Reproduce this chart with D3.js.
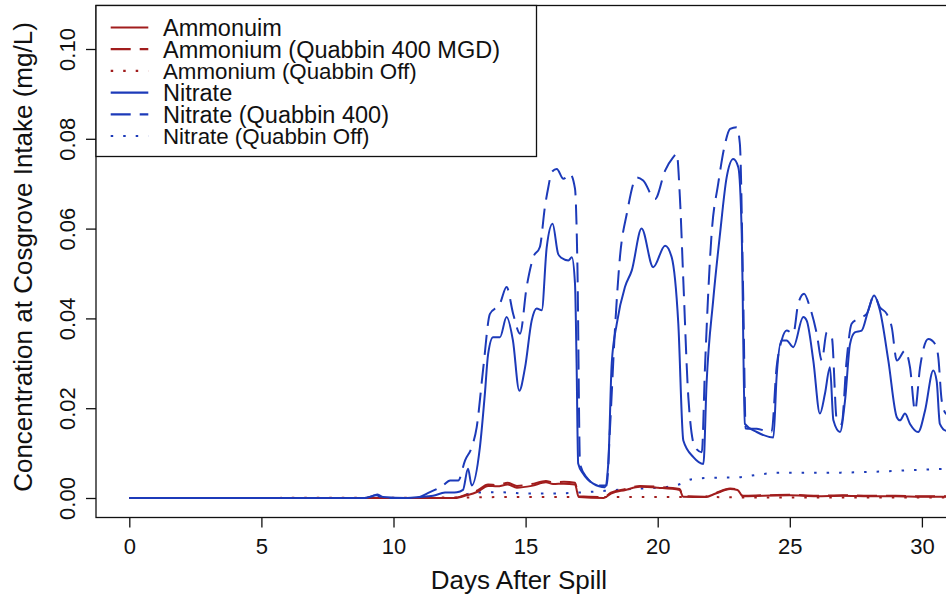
<!DOCTYPE html>
<html><head><meta charset="utf-8">
<script src="https://cdn.jsdelivr.net/npm/d3@7"></script>
<style>
html,body{margin:0;padding:0;background:#fff;}
svg{display:block;}
text{font-family:"Liberation Sans",Arial,Helvetica,sans-serif;fill:#111;}
</style></head>
<body>
<svg id="chart" width="946" height="598"></svg>
<script>
// ---------------- data ----------------
const xTicks = [0,5,10,15,20,25,30];
const yTicks = [0,0.02,0.04,0.06,0.08,0.10];
const yTickLabels = ["0.00","0.02","0.04","0.06","0.08","0.10"];
const xLabel = "Days After Spill";
const yLabel = "Concentration at Cosgrove Intake (mg/L)";
const legendLabels = ["Ammonuim","Ammonium (Quabbin 400 MGD)","Ammonium (Quabbin Off)","Nitrate","Nitrate (Quabbin 400)","Nitrate (Quabbin Off)"];

// Nitrate (solid)
const nitrateDays = [0,8.9,9.2,9.4,9.6,10.5,11.0,11.5,11.95,12.4,12.63,12.82,12.96,13.27,13.46,13.58,13.77,14.03,14.28,14.52,14.76,14.98,15.23,15.42,15.61,15.80,16.02,16.23,16.35,16.62,16.75,16.87,16.93,16.99,17.18,17.56,18.0,18.13,18.26,18.45,18.76,19.02,19.39,19.83,20.28,20.53,20.78,20.97,21.35,21.73,21.85,22.10,22.36,22.61,22.86,23.05,23.18,23.30,23.75,24.38,24.50,24.69,24.88,25.13,25.51,25.64,25.89,26.14,26.33,26.52,26.65,26.90,27.09,27.28,27.46,27.72,27.97,28.19,28.41,28.73,29.05,29.17,29.36,29.55,29.86,30.12,30.43,30.56,30.68,30.91,31.3];
const nitrateVals = [0,0,0.0004,0.0008,0.0002,0,0.0002,0.0005,0.0012,0.0013,0.0018,0.0065,0.0028,0.0113,0.0233,0.032,0.0358,0.0358,0.0403,0.0351,0.0239,0.0291,0.0395,0.0422,0.0418,0.0559,0.0611,0.0544,0.0535,0.0529,0.0536,0.0477,0.030,0.0077,0.0054,0.0032,0.0024,0.0077,0.030,0.0388,0.047,0.0507,0.060,0.0514,0.0562,0.0536,0.0388,0.0128,0.0091,0.0076,0.0255,0.044,0.0589,0.0714,0.0755,0.0737,0.0589,0.0165,0.0147,0.0135,0.0269,0.0351,0.0351,0.0336,0.0403,0.0395,0.0306,0.0188,0.0232,0.0291,0.0173,0.0147,0.0217,0.0343,0.0369,0.0373,0.0418,0.0451,0.0418,0.0306,0.018,0.0173,0.0188,0.0165,0.0147,0.0195,0.0284,0.026,0.0165,0.015,0.015];

// Nitrate (Quabbin 400) dashed
const nitrate400Days = [0,8.9,9.35,9.6,10.8,11.38,11.88,12.14,12.45,12.71,12.96,13.15,13.40,13.65,14.03,14.28,14.53,14.79,15.04,15.29,15.54,15.73,15.86,15.99,16.18,16.43,16.68,16.87,16.96,17.06,17.31,17.75,18.07,18.19,18.38,18.57,18.83,19.21,19.45,19.90,20.28,20.59,20.72,20.84,20.97,21.16,21.41,21.67,21.79,22.04,22.29,22.55,22.74,22.99,23.11,23.24,23.33,23.75,24.31,24.50,24.69,24.88,25.13,25.32,25.54,25.76,26.02,26.21,26.40,26.59,26.78,26.96,27.15,27.34,27.59,27.91,28.19,28.41,28.67,28.86,29.05,29.36,29.55,29.74,29.93,30.24,30.50,30.62,30.75,30.91,31.3];
const nitrate400Vals = [0,0,0.0006,0,0,0.0013,0.0028,0.0039,0.0039,0.0084,0.0113,0.0158,0.0291,0.041,0.0433,0.047,0.041,0.0366,0.047,0.0536,0.0559,0.0648,0.0692,0.0726,0.0733,0.0711,0.0722,0.0689,0.0522,0.0076,0.0046,0.0028,0.0028,0.015,0.0373,0.0536,0.0633,0.0714,0.0707,0.0666,0.0729,0.0759,0.0767,0.067,0.0484,0.0224,0.0113,0.0102,0.0291,0.0588,0.070,0.0789,0.0822,0.0826,0.0789,0.044,0.0155,0.0154,0.0147,0.0291,0.0351,0.0373,0.0366,0.0433,0.0455,0.0425,0.0366,0.0306,0.0369,0.0358,0.0173,0.0165,0.0306,0.0388,0.0399,0.041,0.0451,0.0425,0.041,0.038,0.0306,0.0328,0.0291,0.0195,0.0291,0.0354,0.0343,0.0314,0.0217,0.0188,0.018];

// Nitrate (Quabbin Off) dotted
const nitrateOffDays = [0,12.3,12.6,13.0,14.0,15.0,16.0,17.0,18.0,19.0,20.0,20.8,21.3,22.0,23.0,23.8,24.5,26.0,28.0,30.0,31.3];
const nitrateOffVals = [0,0,0.0004,0.0012,0.0013,0.001,0.001,0.0012,0.0016,0.002,0.0023,0.003,0.0042,0.0045,0.0046,0.0052,0.0056,0.0056,0.0058,0.0063,0.0066];

// Ammonium (solid)
const ammoniumDays = [0,12.3,12.77,13.18,13.58,13.92,14.33,14.67,15.23,15.77,16.04,16.45,16.87,17.01,17.96,18.23,18.78,19.33,20.01,20.83,20.96,21.79,22.2,22.74,23.02,23.22,24.0,25.0,26.0,27.0,28.0,29.0,30.0,31.3];
const ammoniumVals = [0,0,0.0006,0.0014,0.0027,0.0026,0.003,0.0023,0.0027,0.0035,0.0031,0.0032,0.003,0.0002,0.0,0.001,0.0018,0.0025,0.0023,0.0018,0.0003,0.0002,0.001,0.002,0.0018,0.0004,0.0005,0.0006,0.0004,0.0005,0.0004,0.0004,0.0003,0.0003];

// Ammonium (Quabbin 400 MGD) dashed
const ammonium400Days = [0,12.3,12.77,13.18,13.58,13.92,14.33,14.67,15.23,15.77,16.04,16.45,16.87,17.01,17.96,18.23,18.78,19.33,20.01,20.83,20.96,21.79,22.2,22.74,23.02,23.22,24.0,25.0,26.0,27.0,28.0,29.0,30.0,31.3];
const ammonium400Vals = [0,0,0.0008,0.0017,0.003,0.0029,0.0034,0.0027,0.0031,0.0038,0.0035,0.0036,0.0034,0.0004,0.0002,0.0012,0.002,0.0027,0.0025,0.002,0.0004,0.0003,0.0011,0.0021,0.0019,0.0005,0.0006,0.0007,0.0005,0.0006,0.0005,0.0005,0.0004,0.0004];

// Ammonium (Quabbin Off) dotted
const ammoniumOffDays = [0,12.5,14.0,16.0,18.0,20.0,22.0,24.0,26.0,28.0,30.0,31.3];
const ammoniumOffVals = [0,0.0001,0.0002,0.0002,0.0002,0.0002,0.0002,0.0001,0.0001,0.0001,0.0001,0.0001];

// ---------------- drawing ----------------
const RED = "#a11d1d", BLUE = "#1c3ab9";
const svg = d3.select("#chart");
const box = {left:96, right:950, top:5.5, bottom:517.5};

const x = d3.scaleLinear().domain([0,30]).range([129.3,921.9]);
const y = d3.scaleLinear().domain([0,0.1]).range([498,49]);

svg.append("defs").append("clipPath").attr("id","plotclip")
  .append("rect").attr("x",box.left).attr("y",box.top)
  .attr("width",box.right-box.left).attr("height",box.bottom-box.top);

const series = [
  {days:ammoniumOffDays, vals:ammoniumOffVals, color:RED, dash:"2.5,10", w:2},
  {days:nitrateOffDays, vals:nitrateOffVals, color:BLUE, dash:"2.5,10", w:2},
  {days:ammonium400Days, vals:ammonium400Vals, color:RED, dash:"20,9", w:2},
  {days:ammoniumDays, vals:ammoniumVals, color:RED, dash:null, w:2},
  {days:nitrate400Days, vals:nitrate400Vals, color:BLUE, dash:"20,9", w:2},
  {days:nitrateDays, vals:nitrateVals, color:BLUE, dash:null, w:2}
];

const line = d3.line().x(d=>x(d[0])).y(d=>y(d[1])).curve(d3.curveMonotoneX);
const g = svg.append("g").attr("clip-path","url(#plotclip)");
series.forEach(s=>{
  const pts = s.days.map((d,i)=>[d,s.vals[i]]);
  g.append("path").datum(pts).attr("d",line)
    .attr("fill","none").attr("stroke",s.color).attr("stroke-width",s.w)
    .attr("stroke-dasharray",s.dash).attr("stroke-linejoin","round");
});

// plot box
svg.append("rect").attr("x",box.left).attr("y",box.top)
  .attr("width",box.right-box.left).attr("height",box.bottom-box.top)
  .attr("fill","none").attr("stroke","#111").attr("stroke-width",1.3);

// x axis
const xAxis = d3.axisBottom(x).tickValues(xTicks).tickSize(10).tickSizeOuter(0).tickPadding(11).tickFormat(d3.format("d"));
const gx = svg.append("g").attr("transform",`translate(0,${box.bottom})`).call(xAxis);
gx.select(".domain").remove();
gx.selectAll(".tick line").attr("stroke","#111").attr("stroke-width",1.3);
gx.selectAll(".tick text").attr("font-size",22).attr("font-family","Liberation Sans, Arial, sans-serif").attr("fill","#111");

// y axis
const yAxis = d3.axisLeft(y).tickValues(yTicks).tickSize(10).tickSizeOuter(0).tickFormat((d,i)=>yTickLabels[i]);
const gy = svg.append("g").attr("transform",`translate(${box.left},0)`).call(yAxis);
gy.select(".domain").remove();
gy.selectAll(".tick line").attr("stroke","#111").attr("stroke-width",1.3);
gy.selectAll(".tick text")
  .attr("font-size",22).attr("font-family","Liberation Sans, Arial, sans-serif").attr("fill","#111")
  .attr("x",null).attr("dy",null)
  .attr("text-anchor","middle")
  .attr("transform","translate(-21,0) rotate(-90)");

// axis titles
svg.append("text").attr("x",519).attr("y",589)
  .attr("text-anchor","middle").attr("font-size",26).text(xLabel);
svg.append("text").attr("transform",`translate(32,257) rotate(-90)`)
  .attr("text-anchor","middle").attr("font-size",26).text(yLabel);

// legend
const leg = svg.append("g");
leg.append("rect").attr("x",box.left).attr("y",box.top).attr("width",440.5).attr("height",151)
  .attr("fill","#fff").attr("stroke","#111").attr("stroke-width",1.3);
const legStyles = [
  {color:RED, dash:null, fs:23.5},{color:RED, dash:"20,9", fs:23.5},{color:RED, dash:"2.5,10", fs:22.3},
  {color:BLUE, dash:null, fs:23.5},{color:BLUE, dash:"20,9", fs:23.5},{color:BLUE, dash:"2.5,10", fs:22.3}
];
legendLabels.forEach((lab,i)=>{
  const ly = 27.5 + i*21.7;
  leg.append("line").attr("x1",110.7).attr("x2",148.3).attr("y1",ly).attr("y2",ly)
    .attr("stroke",legStyles[i].color).attr("stroke-width",2.2).attr("stroke-dasharray",legStyles[i].dash);
  leg.append("text").attr("x",163).attr("y",ly).attr("dy","0.36em")
    .attr("font-size",legStyles[i].fs).text(lab);
});
</script>
</body></html>
